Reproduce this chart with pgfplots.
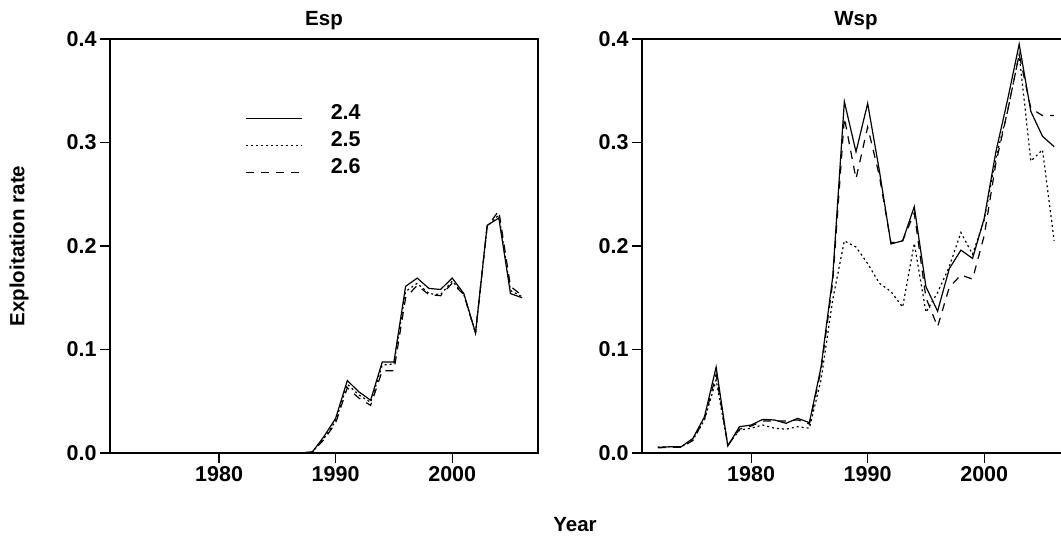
\documentclass[border=0pt]{standalone}
\usepackage{pgfplots}
\usepackage{pgfplotstable}
\pgfplotsset{compat=1.18}
\usepackage{fontspec}
\setmainfont{Liberation Sans}

\pgfplotstableread{
year a b c
1972 0 0 0
1973 0 0 0
1974 0 0 0
1975 0 0 0
1976 0 0 0
1977 0 0 0
1978 0 0 0
1979 0 0 0
1980 0 0 0
1981 0 0 0
1982 0 0 0
1983 0 0 0
1984 0 0 0
1985 0 0 0
1986 0 0 0
1987 0 0 0
1988 0.001 0.001 0.001
1989 0.016 0.014 0.013
1990 0.0335 0.031 0.029
1991 0.070 0.0665 0.063
1992 0.059 0.056 0.053
1993 0.051 0.049 0.046
1994 0.088 0.085 0.0795
1995 0.088 0.086 0.0795
1996 0.161 0.156 0.150
1997 0.169 0.164 0.162
1998 0.159 0.154 0.153
1999 0.158 0.153 0.152
2000 0.169 0.166 0.164
2001 0.154 0.153 0.153
2002 0.116 0.116 0.116
2003 0.220 0.219 0.219
2004 0.227 0.230 0.234
2005 0.154 0.157 0.161
2006 0.150 0.151 0.152
}\esp

\pgfplotstableread{
year a b c
1972 0.0055 0.0055 0.005
1973 0.006 0.006 0.0055
1974 0.006 0.006 0.0055
1975 0.014 0.0125 0.012
1976 0.035 0.032 0.033
1977 0.083 0.0705 0.076
1978 0.0068 0.0077 0.007
1979 0.0254 0.022 0.023
1980 0.027 0.024 0.026
1981 0.0325 0.027 0.031
1982 0.0319 0.024 0.031
1983 0.0287 0.023 0.031
1984 0.0335 0.0254 0.032
1985 0.0293 0.024 0.028
1986 0.083 0.0705 0.080
1987 0.170 0.148 0.165
1988 0.3395 0.205 0.324
1989 0.291 0.199 0.265
1990 0.3378 0.183 0.315
1991 0.273 0.164 0.268
1992 0.202 0.156 0.203
1993 0.205 0.141 0.205
1994 0.238 0.2026 0.232
1995 0.1607 0.136 0.150
1996 0.137 0.155 0.122
1997 0.178 0.180 0.160
1998 0.196 0.213 0.172
1999 0.188 0.192 0.168
2000 0.2267 0.225 0.210
2001 0.291 0.285 0.280
2002 0.341 0.330 0.330
2003 0.395 0.385 0.385
2004 0.330 0.282 0.333
2005 0.306 0.293 0.326
2006 0.296 0.205 0.326
}\wsp

\pgfplotsset{
  panel/.style={
    scale only axis, width=428pt, height=414pt, anchor=south west,
    xmin=1970.64, xmax=2007.36, ymin=0, ymax=0.4,
    xtick={1980,1990,2000}, ytick={0,0.1,0.2,0.3,0.4},
    tick align=outside, tick pos=left, major tick length=10pt,
    axis line style={line width=1.2pt},
    every tick/.style={black, line width=1.2pt},
    /pgf/number format/assume math mode=true,
    xticklabel style={/pgf/number format/1000 sep={}},
    yticklabel style={/pgf/number format/.cd, fixed, fixed zerofill, precision=1},
    scaled y ticks=false,
    tick label style={font=\fontsize{21.5}{25}\selectfont\bfseries},
    title style={font=\fontsize{20.5}{24}\selectfont\bfseries},
    label style={font=\fontsize{20.5}{24}\selectfont\bfseries},
  },
  s1/.style={black, line width=1.2pt},
  s2/.style={black, line width=1.2pt, dash pattern=on 2pt off 3pt},
  s3/.style={black, line width=1.2pt, dash pattern=on 8pt off 7pt},
}

\begin{document}
\begin{tikzpicture}
\path[use as bounding box] (0pt,0pt) rectangle (1061pt,538pt);
\clip (0pt,0pt) rectangle (1061pt,538pt);
\begin{axis}[panel, at={(110pt,85pt)}, title={Esp},
  ylabel={Exploitation rate},
  ylabel style={at={(axis description cs:-0.2126,0.5)}, anchor=center},
  xlabel={Year},
  xlabel style={at={(axis description cs:1.0864,-0.1739)}, anchor=center},
  legend style={at={(axis description cs:0.3154,0.848)}, anchor=north west, draw=none, fill=none,
    font=\fontsize{21.5}{25}\selectfont\bfseries, row sep=6.5pt,
    inner sep=0pt, nodes={inner sep=2pt}},
  legend image code/.code={\draw[#1] (0pt,-6pt) -- (56pt,-6pt); \path[draw=none,fill=none] (0pt,8pt) -- (83pt,8pt);},
  legend cell align=left]
\addplot[s1] table[x=year,y=a]{\esp};
\addplot[s2] table[x=year,y=b]{\esp};
\addplot[s3] table[x=year,y=c]{\esp};
\legend{2.4,2.5,2.6}
\end{axis}
\begin{axis}[panel, at={(642pt,85pt)}, title={Wsp}]
\addplot[s1] table[x=year,y=a]{\wsp};
\addplot[s2] table[x=year,y=b]{\wsp};
\addplot[s3] table[x=year,y=c]{\wsp};
\end{axis}
\end{tikzpicture}
\end{document}
